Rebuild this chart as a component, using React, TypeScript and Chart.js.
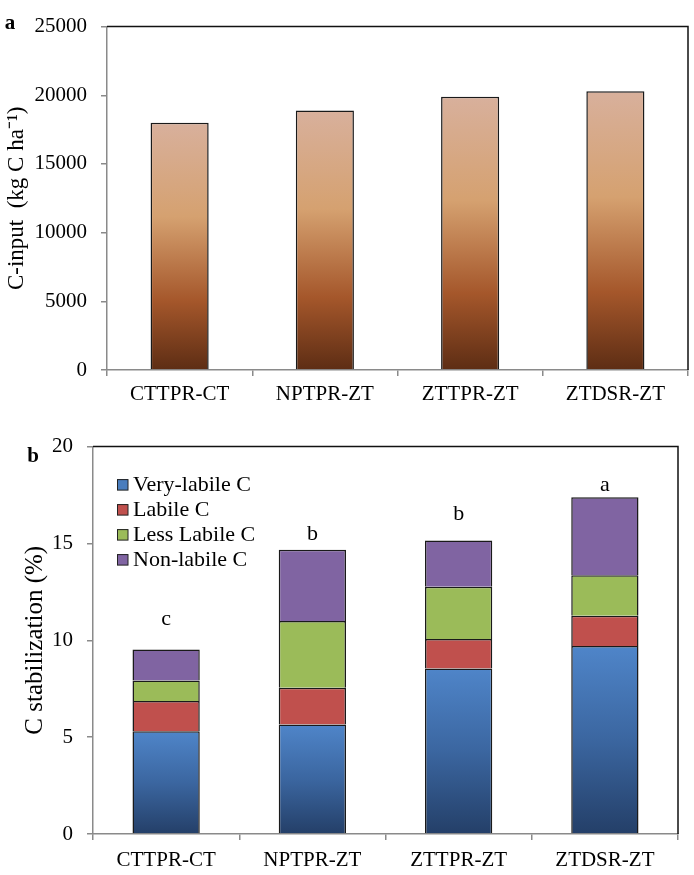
import React, { useEffect, useRef } from 'react';
import { Chart, registerables } from 'chart.js';

Chart.register(...registerables);

const FONT = '"Liberation Serif", "Times New Roman", serif';

// ---- Data ----
const categories = ['CTTPR-CT', 'NPTPR-ZT', 'ZTTPR-ZT', 'ZTDSR-ZT'];
const cInput = [18000, 18900, 19900, 20300];
const cInputMin = 0;
const cInputMax = 25000;
const cInputStep = 5000;

const seriesLabels = ['Very-labile C', 'Labile C', 'Less Labile C', 'Non-labile C'];
const veryLabile = [5.3, 5.65, 8.55, 9.7];
const labile = [1.57, 1.9, 1.52, 1.57];
const lessLabile = [1.06, 3.45, 2.7, 2.09];
const nonLabile = [1.6, 3.67, 2.38, 4.02];
const stabMin = 0;
const stabMax = 20;
const stabStep = 5;
const sigLetters = ['c', 'b', 'b', 'a'];
const sigLetterY = [11.1, 15.5, 16.5, 18.0];

const seriesColors = ['#4a7dbd', '#c0504d', '#9bbb59', '#8064a2'];

// ---- Plugins ----
const framePlugin = {
  id: 'frame',
  afterDatasetsDraw(chart: any) {
    const { ctx, chartArea: a } = chart;
    ctx.save();
    ctx.strokeStyle = '#111';
    ctx.lineWidth = 1.5;
    ctx.beginPath();
    ctx.moveTo(a.left, a.top);
    ctx.lineTo(a.right, a.top);
    ctx.lineTo(a.right, a.bottom);
    ctx.stroke();
    ctx.restore();
  },
};

const panelLabel = (text: string, x: number, y: number) => ({
  id: 'panelLabel',
  afterDraw(chart: any) {
    const ctx = chart.ctx;
    ctx.save();
    ctx.font = `bold 21px ${FONT}`;
    ctx.fillStyle = '#000';
    ctx.textAlign = 'center';
    ctx.textBaseline = 'middle';
    ctx.fillText(text, x, y);
    ctx.restore();
  },
});

const lettersPlugin = {
  id: 'letters',
  afterDatasetsDraw(chart: any) {
    const ctx = chart.ctx;
    const xs = chart.scales.x;
    const ys = chart.scales.y;
    ctx.save();
    ctx.font = `22px ${FONT}`;
    ctx.fillStyle = '#000';
    ctx.textAlign = 'center';
    ctx.textBaseline = 'middle';
    sigLetters.forEach((t, i) => {
      ctx.fillText(t, xs.getPixelForValue(i), ys.getPixelForValue(sigLetterY[i]));
    });
    ctx.restore();
  },
};

const legendPlugin = {
  id: 'customLegend',
  afterDraw(chart: any) {
    const ctx = chart.ctx;
    const a = chart.chartArea;
    ctx.save();
    ctx.font = `22px ${FONT}`;
    ctx.textBaseline = 'middle';
    ctx.textAlign = 'left';
    seriesLabels.forEach((lab, i) => {
      const cy = a.top + 38 + i * 25;
      const bx = a.left + 24;
      ctx.fillStyle = seriesColors[i];
      ctx.fillRect(bx, cy - 5.5, 11, 11);
      ctx.strokeStyle = '#222';
      ctx.lineWidth = 1;
      ctx.strokeRect(bx + 0.5, cy - 5, 10.5, 10.5);
      ctx.fillStyle = '#000';
      ctx.fillText(lab, bx + 16, cy + 1);
    });
    ctx.restore();
  },
};

// ---- Gradients ----
function brownGradient(c: any) {
  const chart = c.chart;
  const area = chart.chartArea;
  if (!area || !chart.scales.y) return '#c08a5a';
  const ys = chart.scales.y;
  const top = ys.getPixelForValue(cInput[c.dataIndex]);
  const bot = ys.getPixelForValue(0);
  const g = chart.ctx.createLinearGradient(0, top, 0, bot);
  g.addColorStop(0, '#d8b09c');
  g.addColorStop(0.38, '#d5a170');
  g.addColorStop(0.72, '#a5572b');
  g.addColorStop(1, '#5d2d14');
  return g;
}

function blueGradient(c: any) {
  const chart = c.chart;
  const area = chart.chartArea;
  if (!area || !chart.scales.y) return '#4a7dbd';
  const ys = chart.scales.y;
  const top = ys.getPixelForValue(veryLabile[c.dataIndex]);
  const bot = ys.getPixelForValue(0);
  const g = chart.ctx.createLinearGradient(0, top, 0, bot);
  g.addColorStop(0, '#4f85c9');
  g.addColorStop(0.5, '#3b66a0');
  g.addColorStop(1, '#243f68');
  return g;
}

const axisCommon = {
  grid: { drawOnChartArea: false, tickLength: 6, color: '#8a8a8a', lineWidth: 1.5 },
  border: { display: true, color: '#8a8a8a', width: 1.5 },
};

const plainTick = (v: any) => String(v);

function ChartCanvas({ width, height, top, make }: any) {
  const ref = useRef<HTMLCanvasElement | null>(null);
  useEffect(() => {
    if (!ref.current) return;
    const chart = new Chart(ref.current, make());
    return () => chart.destroy();
  }, []);
  return (
    <canvas
      ref={ref}
      width={width}
      height={height}
      style={{ position: 'absolute', left: 0, top, width, height }}
    />
  );
}

function makeTop(): any {
  return {
    type: 'bar',
    data: {
      labels: categories,
      datasets: [
        {
          label: 'C-input',
          data: cInput,
          backgroundColor: brownGradient,
          borderColor: '#1a1a1a',
          borderWidth: 1.5,
          barPercentage: 0.4,
          categoryPercentage: 1,
        },
      ],
    },
    options: {
      responsive: false,
      animation: false,
      devicePixelRatio: 1,
      layout: { padding: { top: 14, right: 6, left: 0, bottom: 0 } },
      plugins: { legend: { display: false }, tooltip: { enabled: false } },
      scales: {
        x: {
          ...axisCommon,
          grid: { ...axisCommon.grid, offset: true },
          ticks: { font: { family: FONT, size: 21 }, color: '#000', padding: 6 },
          afterFit: (s: any) => { s.height = 50; },
        },
        y: {
          ...axisCommon,
          min: cInputMin,
          max: cInputMax,
          ticks: { stepSize: cInputStep, callback: plainTick, font: { family: FONT, size: 21 }, color: '#000', padding: 14 },
          title: {
            display: true,
            text: 'C-input  (kg C ha\u207B\u00B9)',
            font: { family: FONT, size: 23 },
            color: '#000',
            padding: { top: 3, bottom: 0 },
          },
          afterFit: (s: any) => { s.width = 107; },
        },
      },
    },
    plugins: [framePlugin, panelLabel('a', 10, 24)],
  };
}

function makeBottom(): any {
  const ds = (label: string, data: number[], bg: any) => ({
    label,
    data,
    backgroundColor: bg,
    borderColor: '#1a1a1a',
    borderWidth: 1.5,
    barPercentage: 0.46,
    categoryPercentage: 1,
    stack: 's',
  });
  return {
    type: 'bar',
    data: {
      labels: categories,
      datasets: [
        ds(seriesLabels[0], veryLabile, blueGradient),
        ds(seriesLabels[1], labile, seriesColors[1]),
        ds(seriesLabels[2], lessLabile, seriesColors[2]),
        ds(seriesLabels[3], nonLabile, seriesColors[3]),
      ],
    },
    options: {
      responsive: false,
      animation: false,
      devicePixelRatio: 1,
      layout: { padding: { top: 14, right: 16, left: 0, bottom: 0 } },
      plugins: { legend: { display: false }, tooltip: { enabled: false } },
      scales: {
        x: {
          ...axisCommon,
          stacked: true,
          grid: { ...axisCommon.grid, offset: true },
          ticks: { font: { family: FONT, size: 21 }, color: '#000', padding: 8 },
          afterFit: (s: any) => { s.height = 41; },
        },
        y: {
          ...axisCommon,
          stacked: true,
          min: stabMin,
          max: stabMax,
          ticks: { stepSize: stabStep, callback: plainTick, font: { family: FONT, size: 21 }, color: '#000', padding: 14 },
          title: {
            display: true,
            text: 'C stabilization (%)',
            font: { family: FONT, size: 25 },
            color: '#000',
            padding: { top: 20, bottom: 0 },
          },
          afterFit: (s: any) => { s.width = 93; },
        },
      },
    },
    plugins: [framePlugin, lettersPlugin, legendPlugin, panelLabel('b', 33, 37)],
  };
}

export default function App() {
  return (
    <div style={{ position: 'absolute', left: 0, top: 0, width: 694, height: 875, background: '#fff' }}>
      <ChartCanvas width={694} height={420} top={0} make={makeTop} />
      <ChartCanvas width={694} height={455} top={420} make={makeBottom} />
    </div>
  );
}
